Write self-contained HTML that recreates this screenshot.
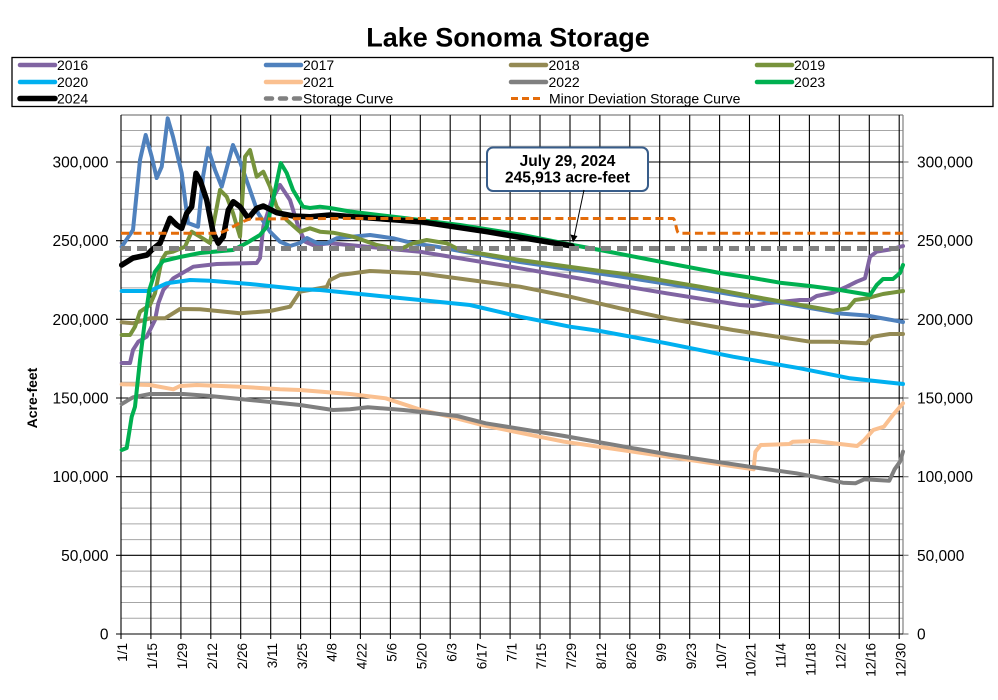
<!DOCTYPE html>
<html>
<head>
<meta charset="utf-8">
<style>
html,body{margin:0;padding:0;background:#fff;}
svg{display:block;}
text{font-family:"Liberation Sans",Arial,sans-serif;}
</style>
</head>
<body>
<svg width="998" height="700" viewBox="0 0 998 700" xmlns="http://www.w3.org/2000/svg">
<rect width="998" height="700" fill="#fff"/>
<!-- Title -->
<text x="508" y="46.5" font-size="27" font-weight="bold" text-anchor="middle" fill="#000">Lake Sonoma Storage</text>

<!-- Legend -->
<rect x="12" y="57.5" width="981" height="49" fill="#fff" stroke="#000" stroke-width="1.3"/>
<g stroke-linecap="round" stroke-width="4.5" fill="none">
  <line x1="20" y1="65" x2="55" y2="65" stroke="#8064A2"/>
  <line x1="266" y1="65" x2="301" y2="65" stroke="#4F81BD"/>
  <line x1="511" y1="65" x2="546" y2="65" stroke="#948A54"/>
  <line x1="757" y1="65" x2="792" y2="65" stroke="#77933C"/>
  <line x1="20" y1="82" x2="55" y2="82" stroke="#00B0F0"/>
  <line x1="266" y1="82" x2="301" y2="82" stroke="#FAC090"/>
  <line x1="511" y1="82" x2="546" y2="82" stroke="#808080"/>
  <line x1="757" y1="82" x2="792" y2="82" stroke="#00B050"/>
  <line x1="20" y1="98.5" x2="55" y2="98.5" stroke="#000" stroke-width="5.5"/>
  <line x1="266" y1="98.5" x2="301" y2="98.5" stroke="#808080" stroke-dasharray="6 8" stroke-linecap="round"/>
  <line x1="511" y1="98.5" x2="543" y2="98.5" stroke="#E46C0A" stroke-width="3" stroke-dasharray="7 4" stroke-linecap="butt"/>
</g>
<g font-size="14" fill="#000">
  <text x="57" y="70">2016</text>
  <text x="303" y="70">2017</text>
  <text x="548.5" y="70">2018</text>
  <text x="794" y="70">2019</text>
  <text x="57" y="87">2020</text>
  <text x="303" y="87">2021</text>
  <text x="548.5" y="87">2022</text>
  <text x="794" y="87">2023</text>
  <text x="57" y="103.5">2024</text>
  <text x="303" y="103.5">Storage Curve</text>
  <text x="549" y="103.5">Minor Deviation Storage Curve</text>
</g>

<!-- Minor horizontal gridlines (every 10k) -->
<g stroke="#A6A6A6" stroke-width="1">
  <line x1="121" y1="618.3" x2="903" y2="618.3"/>
  <line x1="121" y1="602.5" x2="903" y2="602.5"/>
  <line x1="121" y1="586.8" x2="903" y2="586.8"/>
  <line x1="121" y1="571.1" x2="903" y2="571.1"/>
  <line x1="121" y1="539.6" x2="903" y2="539.6"/>
  <line x1="121" y1="523.9" x2="903" y2="523.9"/>
  <line x1="121" y1="508.1" x2="903" y2="508.1"/>
  <line x1="121" y1="492.4" x2="903" y2="492.4"/>
  <line x1="121" y1="460.9" x2="903" y2="460.9"/>
  <line x1="121" y1="445.2" x2="903" y2="445.2"/>
  <line x1="121" y1="429.5" x2="903" y2="429.5"/>
  <line x1="121" y1="413.7" x2="903" y2="413.7"/>
  <line x1="121" y1="382.3" x2="903" y2="382.3"/>
  <line x1="121" y1="366.5" x2="903" y2="366.5"/>
  <line x1="121" y1="350.8" x2="903" y2="350.8"/>
  <line x1="121" y1="335.1" x2="903" y2="335.1"/>
  <line x1="121" y1="303.6" x2="903" y2="303.6"/>
  <line x1="121" y1="287.9" x2="903" y2="287.9"/>
  <line x1="121" y1="272.1" x2="903" y2="272.1"/>
  <line x1="121" y1="256.4" x2="903" y2="256.4"/>
  <line x1="121" y1="224.9" x2="903" y2="224.9"/>
  <line x1="121" y1="209.2" x2="903" y2="209.2"/>
  <line x1="121" y1="193.5" x2="903" y2="193.5"/>
  <line x1="121" y1="177.7" x2="903" y2="177.7"/>
  <line x1="121" y1="146.3" x2="903" y2="146.3"/>
  <line x1="121" y1="130.5" x2="903" y2="130.5"/>
</g>
<!-- Plot border top/right gray -->
<g stroke="#808080" stroke-width="1.2">
  <line x1="121" y1="115" x2="903" y2="115"/>
  <line x1="903" y1="115" x2="903" y2="634"/>
  <line x1="903" y1="555.3" x2="908.5" y2="555.3"/>
  <line x1="903" y1="476.7" x2="908.5" y2="476.7"/>
  <line x1="903" y1="398" x2="908.5" y2="398"/>
  <line x1="903" y1="319.3" x2="908.5" y2="319.3"/>
  <line x1="903" y1="240.7" x2="908.5" y2="240.7"/>
  <line x1="903" y1="162" x2="908.5" y2="162"/>
  <line x1="903" y1="634" x2="908.5" y2="634"/>
</g>
<!-- Major horizontal gridlines -->
<g stroke="#000" stroke-width="1.1">
  <line x1="116" y1="555.3" x2="903" y2="555.3"/>
  <line x1="116" y1="476.7" x2="903" y2="476.7"/>
  <line x1="116" y1="398" x2="903" y2="398"/>
  <line x1="116" y1="319.3" x2="903" y2="319.3"/>
  <line x1="116" y1="240.7" x2="903" y2="240.7"/>
  <line x1="116" y1="162" x2="903" y2="162"/>
</g>
<!-- Vertical gridlines -->
<g stroke="#000" stroke-width="1.1">
  <line x1="121" y1="115" x2="121" y2="639"/>
  <line x1="150.9" y1="115" x2="150.9" y2="639"/>
  <line x1="180.9" y1="115" x2="180.9" y2="639"/>
  <line x1="210.8" y1="115" x2="210.8" y2="639"/>
  <line x1="240.7" y1="115" x2="240.7" y2="639"/>
  <line x1="270.7" y1="115" x2="270.7" y2="639"/>
  <line x1="300.6" y1="115" x2="300.6" y2="639"/>
  <line x1="330.5" y1="115" x2="330.5" y2="639"/>
  <line x1="360.4" y1="115" x2="360.4" y2="639"/>
  <line x1="390.4" y1="115" x2="390.4" y2="639"/>
  <line x1="420.3" y1="115" x2="420.3" y2="639"/>
  <line x1="450.2" y1="115" x2="450.2" y2="639"/>
  <line x1="480.2" y1="115" x2="480.2" y2="639"/>
  <line x1="510.1" y1="115" x2="510.1" y2="639"/>
  <line x1="540" y1="115" x2="540" y2="639"/>
  <line x1="570" y1="115" x2="570" y2="639"/>
  <line x1="599.9" y1="115" x2="599.9" y2="639"/>
  <line x1="629.8" y1="115" x2="629.8" y2="639"/>
  <line x1="659.7" y1="115" x2="659.7" y2="639"/>
  <line x1="689.7" y1="115" x2="689.7" y2="639"/>
  <line x1="719.6" y1="115" x2="719.6" y2="639"/>
  <line x1="749.5" y1="115" x2="749.5" y2="639"/>
  <line x1="779.5" y1="115" x2="779.5" y2="639"/>
  <line x1="809.4" y1="115" x2="809.4" y2="639"/>
  <line x1="839.3" y1="115" x2="839.3" y2="639"/>
  <line x1="869.3" y1="115" x2="869.3" y2="639"/>
  <line x1="899.2" y1="115" x2="899.2" y2="639"/>
  <line x1="116" y1="634" x2="903" y2="634"/>
</g>

<!-- Annotation box -->
<rect x="487" y="147.5" width="161" height="43.5" rx="6" ry="6" fill="#fff" stroke="#385D8A" stroke-width="2"/>
<g font-size="15.5" font-weight="bold" text-anchor="middle" fill="#000">
  <text x="567.5" y="166">July 29, 2024</text>
  <text x="567.5" y="182.5">245,913 acre-feet</text>
</g>

<!-- Series -->
<g fill="none" stroke-linejoin="round" stroke-linecap="round" stroke-width="4">
  <!-- 2016 -->
  <polyline stroke="#8064A2" points="121.7,363 130,363 133,350 138.3,341.7 146.7,336.7 155,320 158.3,303.3 163.3,290 173.3,278.3 193.3,266.7 216.7,264 256.7,263 260,258 263.3,226.7 271.7,200 280,185 290,200 298.3,226.7 305,241.7 313,245 330,243.3 420,251.7 520,268.3 600,282 620,285.5 666.7,293.3 740,305 753,306 766.7,303.3 800,300 810,300 816.7,296 833,292.7 846.7,286.7 856.7,281.7 865,278.3 870,256.7 876.7,251.7 890,249.5 903,246"/>
  <!-- 2017 -->
  <polyline stroke="#4F81BD" points="121.7,246.7 133,230 140,160 145.7,135 151.7,156.7 156.7,178 161.7,166.7 167.7,118.3 173,136.7 181.7,173 188,223 198,226.7 203,176.7 208,148 215,170 221.7,186.7 233,145 240,161.7 250,190 258,213 270,231.7 280,241.7 290,246 300,243 307,238 317,243 326.7,243.3 336.7,238.3 370,235 393.3,238.3 413.3,243.3 436.7,246.7 460,251 520,262 620,276.5 700,289 766.7,300.5 833,312 840,313.5 866.7,315.5 903,322"/>
  <!-- 2018 -->
  <polyline stroke="#948A54" points="121.7,322.3 133,323.3 150,318.3 165,318.3 180,309 200,309.3 240,313.3 270,311 290,306.7 300,291.7 326.7,287 330,280 340,275 370,271 420,273.3 470,280 520,286.7 570,296.7 620,308.3 666.7,318.3 733,330 810,341.7 833,341.7 866.7,343.3 873,336.7 890,334 903,334"/>
  <!-- 2019 -->
  <polyline stroke="#77933C" points="121.7,335 130,335 135,326.7 140,311.7 150,305 155,293.3 158.3,276.7 161.7,260 166,253 173,251.7 185,246.7 191.7,231.7 200,236.7 210,243 220,190 226.7,196.7 233,213 240,236.7 245,156.7 250,150 256.7,176.7 263.3,171.7 270,186.7 276.7,206.7 286.7,220 300,231.7 310,228.3 320,231.7 333,232.7 353,236.7 376.7,245 400,249.3 413,243.3 426.7,240 446.7,243.3 460,250 520,260 600,271 620,273.3 700,286.7 766.7,299 833,310.7 848,308.3 855,300 866.7,298.3 883,294 903,291"/>
  <!-- 2020 -->
  <polyline stroke="#00B0F0" points="121.7,291 150,291 166.7,283.3 190,280 210,280.7 250,284 300,289.3 320,290 370,295 420,300 470,305 520,316.7 570,326.7 600,331 666.7,343.3 733,356.7 800,368.3 850,378.3 903,384"/>
  <!-- 2021 -->
  <polyline stroke="#FAC090" points="121.7,384.3 150,385 173.3,389.3 180,386 196.7,385 240,386.7 280,389.3 300,390 350,394 385.7,398.3 421.4,410 450,416.7 482,425 564,441.7 671.4,457.3 753.6,469.3 755.4,451.7 760.7,445 789.3,444 792.9,441.7 814.3,441 857.1,446 864.3,440 873.2,430 883.9,426.7 892.9,415 903,403.3"/>
  <!-- 2022 -->
  <polyline stroke="#7F7F7F" points="121.7,404 133,397.3 150,394 183.3,394 210,396 250,400 300,405 333,410 350,409.3 367.9,407.3 403.6,410 457.1,416 485.7,423.3 564.3,436 671.4,455 753.6,467.3 796.4,473.3 814.3,476.7 842.9,482.7 855.4,483.3 864.3,479.3 889.3,480.7 894.6,469.3 900,461.7 903,451.7"/>
  <!-- 2023 -->
  <polyline stroke="#00B050" points="121.7,450 126.7,448 131.7,416.7 135,406.7 140,360 145,320 149.3,290 155,271.7 163,261 180,257 200,253 233,250 246.7,243 260,235 266.7,226.7 273,200 280.7,163 286.7,173 293,190 303,206.7 310,208 320,206.7 330,208 350,211.5 400,217.5 460,225 520,234.5 570,244.5 600,250 660,261.7 720,273 753,278 780,282.7 810,286 840,290 870,295 876.7,285 883,279 893,279 900,273 903,265"/>
  <!-- 2024 -->
  <polyline stroke="#000" stroke-width="5.5" points="121.7,265 133,258 147,255 151.7,250 160,243.3 170,218.3 176.7,225 181.7,228.3 186.7,213.3 191.7,206.7 196,173.3 200,180 206.7,200 213.3,233.3 218.3,243.3 223.3,236.7 228.3,210 233.3,201.7 240,206.7 248.3,218.3 256.7,208.3 263.3,206 276.7,212.7 293.3,216 310,216.7 330,215 370,218 420,221.7 486.7,231.7 530,239 572,246"/>
  <!-- Storage Curve -->
  <line x1="121" y1="248.5" x2="903" y2="248.5" stroke="#808080" stroke-width="5" stroke-linecap="butt" stroke-dasharray="10 6"/>
  <!-- Minor Deviation Storage Curve -->
  <path d="M121,233.3 L216,233.3 C226,233 234,224 250,219 L330,218.5 L673,218.5 C676,219 676,233 679,233.3 L903,233.3" stroke="#E46C0A" stroke-width="3" stroke-linecap="butt" stroke-dasharray="8 4.5"/>
</g>

<!-- Arrow -->
<line x1="584" y1="190" x2="574.3" y2="236" stroke="#000" stroke-width="1"/>
<polygon points="573,242.5 570.5,234.5 577.5,236" fill="#000"/>

<!-- Left y labels -->
<g font-size="15.5" text-anchor="end" fill="#000">
  <text x="108.5" y="639.5">0</text>
  <text x="108.5" y="560.8">50,000</text>
  <text x="108.5" y="482.2">100,000</text>
  <text x="108.5" y="403.5">150,000</text>
  <text x="108.5" y="324.8">200,000</text>
  <text x="108.5" y="246.2">250,000</text>
  <text x="108.5" y="167.5">300,000</text>
</g>
<!-- Right y labels -->
<g font-size="15.5" text-anchor="start" fill="#000">
  <text x="917" y="639.5">0</text>
  <text x="917" y="560.8">50,000</text>
  <text x="917" y="482.2">100,000</text>
  <text x="917" y="403.5">150,000</text>
  <text x="917" y="324.8">200,000</text>
  <text x="917" y="246.2">250,000</text>
  <text x="917" y="167.5">300,000</text>
</g>
<!-- Y axis title -->
<text transform="translate(37,398) rotate(-90)" font-size="14" font-weight="bold" text-anchor="middle" fill="#000">Acre-feet</text>

<!-- X labels -->
<g font-size="13.5" text-anchor="end" fill="#000">
  <text transform="translate(122.5,643) rotate(-90)" dy="0.35em">1/1</text>
  <text transform="translate(152.4,643) rotate(-90)" dy="0.35em">1/15</text>
  <text transform="translate(182.4,643) rotate(-90)" dy="0.35em">1/29</text>
  <text transform="translate(212.3,643) rotate(-90)" dy="0.35em">2/12</text>
  <text transform="translate(242.2,643) rotate(-90)" dy="0.35em">2/26</text>
  <text transform="translate(272.2,643) rotate(-90)" dy="0.35em">3/11</text>
  <text transform="translate(302.1,643) rotate(-90)" dy="0.35em">3/25</text>
  <text transform="translate(332,643) rotate(-90)" dy="0.35em">4/8</text>
  <text transform="translate(361.9,643) rotate(-90)" dy="0.35em">4/22</text>
  <text transform="translate(391.9,643) rotate(-90)" dy="0.35em">5/6</text>
  <text transform="translate(421.8,643) rotate(-90)" dy="0.35em">5/20</text>
  <text transform="translate(451.7,643) rotate(-90)" dy="0.35em">6/3</text>
  <text transform="translate(481.7,643) rotate(-90)" dy="0.35em">6/17</text>
  <text transform="translate(511.6,643) rotate(-90)" dy="0.35em">7/1</text>
  <text transform="translate(541.5,643) rotate(-90)" dy="0.35em">7/15</text>
  <text transform="translate(571.5,643) rotate(-90)" dy="0.35em">7/29</text>
  <text transform="translate(601.4,643) rotate(-90)" dy="0.35em">8/12</text>
  <text transform="translate(631.3,643) rotate(-90)" dy="0.35em">8/26</text>
  <text transform="translate(661.2,643) rotate(-90)" dy="0.35em">9/9</text>
  <text transform="translate(691.2,643) rotate(-90)" dy="0.35em">9/23</text>
  <text transform="translate(721.1,643) rotate(-90)" dy="0.35em">10/7</text>
  <text transform="translate(751,643) rotate(-90)" dy="0.35em">10/21</text>
  <text transform="translate(781,643) rotate(-90)" dy="0.35em">11/4</text>
  <text transform="translate(810.9,643) rotate(-90)" dy="0.35em">11/18</text>
  <text transform="translate(840.8,643) rotate(-90)" dy="0.35em">12/2</text>
  <text transform="translate(870.8,643) rotate(-90)" dy="0.35em">12/16</text>
  <text transform="translate(900.7,643) rotate(-90)" dy="0.35em">12/30</text>
</g>
</svg>
</body>
</html>
